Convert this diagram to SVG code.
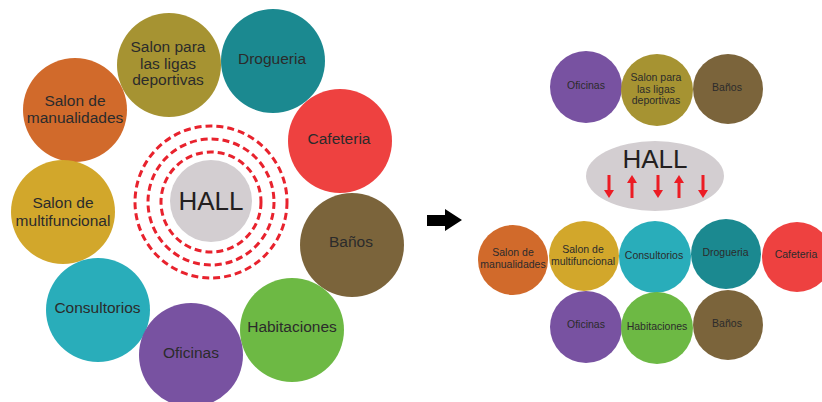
<svg xmlns="http://www.w3.org/2000/svg" width="822" height="402" viewBox="0 0 822 402">
<defs>
<style>
text{font-family:"Liberation Sans",Arial,sans-serif;fill:#2b2b2b;text-anchor:middle}
.l{font-size:15.5px}
.s{font-size:10.5px}
.h{font-size:26px;fill:#231f20}
.ring{fill:none;stroke:#e8222d;stroke-width:3;stroke-dasharray:7 4}
.purple{fill:#7852a1}
.olive{fill:#a69332}
.teal{fill:#1b8990}
.orange{fill:#d16a2b}
.gold{fill:#d2a72b}
.red{fill:#ee4140}
.brown{fill:#7b643b}
.cyan{fill:#29adba}
.green{fill:#6db944}
.hall{fill:#d3ced1}
.ra{fill:#ec1c24}
</style>
</defs>
<rect width="822" height="402" fill="#ffffff"/>
<g id="left-hall">
<circle class="ring" cx="211" cy="202" r="76"/>
<circle class="ring" cx="211" cy="202" r="63"/>
<circle class="ring" cx="211" cy="202" r="50"/>
<circle class="hall" cx="211" cy="201" r="41"/>
<text class="h" x="211" y="210">HALL</text>
</g>
<g id="l-ligas"><circle class="olive" cx="169" cy="65" r="52"/><text class="l" x="168" y="52">Salon para</text><text class="l" x="168" y="68.5">las ligas</text><text class="l" x="168" y="85">deportivas</text></g>
<g id="l-drogueria"><circle class="teal" cx="273" cy="61" r="52"/><text class="l" x="272" y="64">Drogueria</text></g>
<g id="l-manualidades"><circle class="orange" cx="75" cy="110" r="52"/><text class="l" x="75" y="106">Salon de</text><text class="l" x="75" y="123">manualidades</text></g>
<g id="l-cafeteria"><circle class="red" cx="340" cy="141" r="52"/><text class="l" x="339" y="144">Cafeteria</text></g>
<g id="l-multifuncional"><circle class="gold" cx="63" cy="212" r="52"/><text class="l" x="63" y="208">Salon de</text><text class="l" x="63" y="226">multifuncional</text></g>
<g id="l-banos"><circle class="brown" cx="352" cy="245" r="52"/><text class="l" x="351" y="247">Baños</text></g>
<g id="l-consultorios"><circle class="cyan" cx="98" cy="310" r="52"/><text class="l" x="97.5" y="313">Consultorios</text></g>
<g id="l-habitaciones"><circle class="green" cx="292" cy="330" r="52"/><text class="l" x="292" y="332">Habitaciones</text></g>
<g id="l-oficinas"><circle class="purple" cx="191" cy="355" r="52"/><text class="l" x="191" y="358">Oficinas</text></g>
<g id="connectors">
<path d="M427 215 H445 V209 L462 220 L445 231 V226 H427 Z" fill="#000000"/>
</g>
<g id="r-oficinas-top"><circle class="purple" cx="586" cy="87" r="36"/><text class="s" x="586" y="89">Oficinas</text></g>
<g id="r-ligas"><circle class="olive" cx="657" cy="90" r="36"/><text class="s" x="656" y="81">Salon para</text><text class="s" x="656" y="92.5">las ligas</text><text class="s" x="656" y="104">deportivas</text></g>
<g id="r-banos-top"><circle class="brown" cx="728" cy="89" r="35"/><text class="s" x="727" y="91">Baños</text></g>
<g id="r-hall">
<ellipse class="hall" cx="655" cy="176" rx="69" ry="35"/>
<text class="h" x="655" y="168">HALL</text>
<path class="ra" d="M607.5 175 h3 v15 h3.5 l-5 8 l-5 -8 h3.5 z"/>
<path class="ra" d="M630.5 198 h3 v-15 h3.5 l-5 -8 l-5 8 h3.5 z"/>
<path class="ra" d="M656.5 175 h3 v15 h3.5 l-5 8 l-5 -8 h3.5 z"/>
<path class="ra" d="M677.5 198 h3 v-15 h3.5 l-5 -8 l-5 8 h3.5 z"/>
<path class="ra" d="M701.5 175 h3 v15 h3.5 l-5 8 l-5 -8 h3.5 z"/>
</g>
<g id="r-manualidades"><circle class="orange" cx="513" cy="260" r="35"/><text class="s" x="513" y="256">Salon de</text><text class="s" x="513" y="268">manualidades</text></g>
<g id="r-multifuncional"><circle class="gold" cx="584" cy="256" r="35"/><text class="s" x="583" y="253">Salon de</text><text class="s" x="583" y="265">multifuncional</text></g>
<g id="r-consultorios"><circle class="cyan" cx="655" cy="257" r="36"/><text class="s" x="654" y="259">Consultorios</text></g>
<g id="r-drogueria"><circle class="teal" cx="726" cy="254" r="35"/><text class="s" x="725.5" y="256">Drogueria</text></g>
<g id="r-cafeteria"><circle class="red" cx="797" cy="257" r="35"/><text class="s" x="796" y="258">Cafeteria</text></g>
<g id="r-oficinas"><circle class="purple" cx="586" cy="327" r="36"/><text class="s" x="586" y="328">Oficinas</text></g>
<g id="r-habitaciones"><circle class="green" cx="657" cy="328" r="36"/><text class="s" x="657" y="330">Habitaciones</text></g>
<g id="r-banos"><circle class="brown" cx="728" cy="325" r="35"/><text class="s" x="727" y="327">Baños</text></g>
</svg>
